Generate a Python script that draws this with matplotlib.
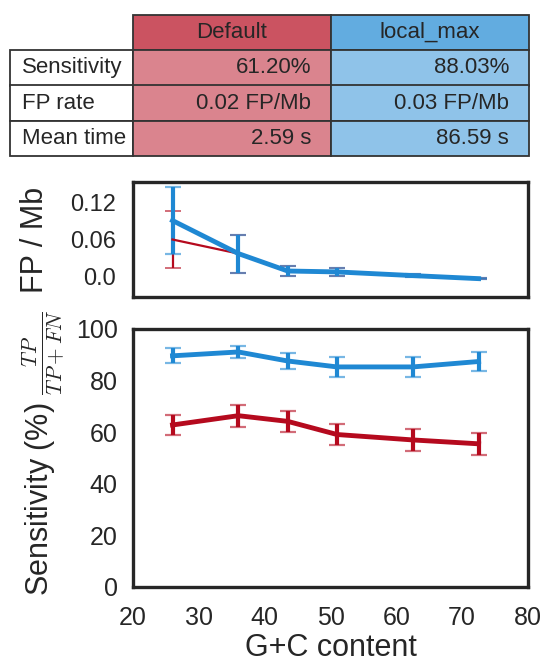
import numpy as np
import matplotlib
matplotlib.use("Agg")
import matplotlib.pyplot as plt

plt.rcParams['font.family'] = ['Liberation Sans', 'DejaVu Sans']
plt.rcParams['mathtext.fontset'] = 'cm'
plt.rcParams['text.color'] = '#262626'
plt.rcParams['axes.labelcolor'] = '#262626'
plt.rcParams['xtick.color'] = '#262626'
plt.rcParams['ytick.color'] = '#262626'

# data
gc_content = [26, 36, 43.5, 51, 62.5, 72.5]

fp_default = [0.060, 0.037, 0.0085, 0.007, 0.001, -0.004]
fp_default_err = [0.046, 0.031, 0.008, 0.006, 0.003, 0.001]
fp_local = [0.091, 0.037, 0.0085, 0.007, 0.001, -0.004]
fp_local_err = [0.055, 0.031, 0.008, 0.006, 0.003, 0.001]

sens_default = [62.8, 66.4, 64.2, 59.1, 57.0, 55.5]
sens_default_err = [3.8, 4.2, 4.2, 4.2, 4.3, 4.3]
sens_local = [89.6, 91.1, 87.6, 85.3, 85.3, 87.4]
sens_local_err = [2.9, 2.3, 3.0, 3.9, 3.9, 3.7]

methods = ['Default', 'local_max']
row_names = ['Sensitivity', 'FP rate', 'Mean time']
default_summary = ['61.20%', '0.02 FP/Mb', '2.59 s']
local_summary = ['88.03%', '0.03 FP/Mb', '86.59 s']

red = '#b50a1e'
blue = '#1f88d3'
red_head = '#cb5361'
red_cell = '#da848e'
blue_head = '#62ace0'
blue_cell = '#8fc3e9'
edge = '#262626'

W, H = 547, 666
fig = plt.figure(figsize=(W / 100, H / 100), dpi=100)

# summary table
tab_ax = fig.add_axes([10 / W, 1 - 156 / H, 519 / W, 141 / H])
tab_ax.axis('off')
rows = [[''] + methods] + [[row_names[i], default_summary[i], local_summary[i]] for i in range(3)]
tbl = tab_ax.table(cellText=rows, bbox=[0, 0, 1, 1], colWidths=[123, 198, 198])
tbl.auto_set_font_size(False)
tbl.set_fontsize(16)
for (r, c), cell in tbl.get_celld().items():
    cell.set_edgecolor('#333333')
    cell.set_linewidth(1.3)
    txt = cell.get_text()
    txt.set_color('#262626')
    if r == 0:
        txt.set_ha('center')
        if c == 0:
            cell.visible_edges = ''
            cell.set_facecolor('none')
        else:
            cell.set_facecolor(red_head if c == 1 else blue_head)
    else:
        if c == 0:
            txt.set_ha('left')
            cell.set_facecolor('white')
        else:
            txt.set_ha('right')
            cell.set_facecolor(red_cell if c == 1 else blue_cell)

ax_fp = fig.add_axes([133 / W, 1 - 297 / H, 395 / W, 115 / H])
ax_sens = fig.add_axes([133 / W, 1 - 587 / H, 395 / W, 258 / H])


def draw(ax, y, err, color, lw, elw, cthick):
    line, caps, bars = ax.errorbar(gc_content, y, yerr=err, color=color, lw=lw,
                                   elinewidth=elw, capsize=6, capthick=cthick)
    for cl in caps:
        cl.set_alpha(0.6)


draw(ax_fp, fp_default, fp_default_err, red, 1.6, 1.6, 1.4)
draw(ax_fp, fp_local, fp_local_err, blue, 3.5, 3.0, 1.6)
draw(ax_sens, sens_default, sens_default_err, red, 3.5, 3.0, 1.6)
draw(ax_sens, sens_local, sens_local_err, blue, 3.5, 3.0, 1.6)

for ax in (ax_fp, ax_sens):
    ax.set_xlim(20, 80)
    for sp in ax.spines.values():
        sp.set_color(edge)
        sp.set_linewidth(2.4)
    ax.tick_params(length=0)

ax_fp.set_ylim(-0.034, 0.154)
ax_fp.set_yticks([0.0, 0.06, 0.12])
ax_fp.set_yticklabels(['0.0', '0.06', '0.12'])
ax_fp.tick_params(axis='y', labelsize=17, pad=12)
ax_fp.tick_params(axis='x', labelbottom=False)
ax_fp.set_ylabel('FP / Mb', fontsize=22)
ax_fp.yaxis.set_label_coords(-0.21, 0.5)

ax_sens.set_ylim(0, 100)
ax_sens.set_yticks(np.arange(0, 101, 20))
ax_sens.set_xticks(np.arange(20, 81, 10))
ax_sens.tick_params(axis='both', labelsize=18)
ax_sens.tick_params(axis='y', pad=11)
ax_sens.tick_params(axis='x', pad=14)
ax_sens.set_ylabel(r'Sensitivity (%) $\frac{TP}{TP+FN}$', fontsize=22)
ax_sens.yaxis.set_label_coords(-0.17, 0.52)
ax_sens.set_xlabel('G+C content', fontsize=22, labelpad=2)

fig.savefig('out.png', dpi=100)
